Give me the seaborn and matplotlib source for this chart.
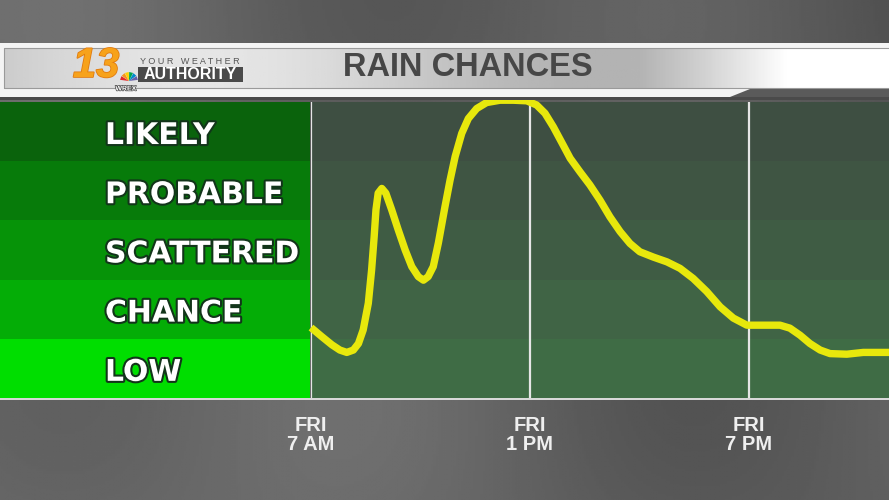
import numpy as np
import pandas as pd
import matplotlib
matplotlib.use("Agg")
import matplotlib.pyplot as plt
import seaborn as sns
from matplotlib import patheffects as pe
from matplotlib.patches import Rectangle, Polygon

# ---------------- data ----------------
levels_top_down = ["LIKELY", "PROBABLE", "SCATTERED", "CHANCE", "LOW"]
level_colors = ["#0a630c", "#077b0a", "#069308", "#04ad06", "#00de00"]
plot_band_colors = ["#3e4f42", "#3f5543", "#3f5c44", "#406445", "#3f6c45"]  # top -> bottom
tick_hours = [0, 6, 12]
tick_labels = ["FRI\n7 AM", "FRI\n1 PM", "FRI\n7 PM"]
title = "RAIN CHANCES"

# hours after 7 AM Friday, chance level on a 0 (bottom of LOW) .. 5 (top of LIKELY) scale
hours = [0.00, 0.29, 0.57, 0.79, 0.98, 1.16, 1.30, 1.43, 1.57, 1.66, 1.73, 1.78,
         1.84, 1.94, 2.05, 2.21, 2.39, 2.58, 2.76, 2.94, 3.08, 3.21, 3.35, 3.49,
         3.67, 3.81, 3.95, 4.13, 4.31, 4.54, 4.81, 5.18, 5.54, 5.91, 6.18, 6.41,
         6.64, 6.91, 7.10, 7.37, 7.64, 7.92, 8.19, 8.47, 8.74, 9.01, 9.38, 9.75,
         10.11, 10.47, 10.84, 11.21, 11.57, 11.94, 12.39, 12.85, 13.12, 13.40, 13.67,
         13.95, 14.22, 14.68, 15.13, 15.59, 15.84]
chance = [1.19, 1.04, 0.90, 0.81, 0.77, 0.81, 0.92, 1.15, 1.60, 2.16, 2.72, 3.18,
          3.46, 3.54, 3.46, 3.18, 2.84, 2.50, 2.22, 2.05, 1.99, 2.05, 2.22, 2.62,
          3.23, 3.68, 4.08, 4.47, 4.72, 4.89, 4.99, 5.03, 5.03, 5.02, 4.95, 4.81,
          4.58, 4.27, 4.05, 3.82, 3.60, 3.34, 3.06, 2.81, 2.61, 2.47, 2.38, 2.30,
          2.19, 2.02, 1.80, 1.54, 1.35, 1.23, 1.23, 1.23, 1.18, 1.06, 0.92,
          0.81, 0.75, 0.74, 0.77, 0.77, 0.77]

df = pd.DataFrame({"hour": hours, "chance": chance})

W, H = 889, 500
def fx(x): return x / W
def fy(y): return 1 - y / H

fig = plt.figure(figsize=(8.89, 5.0), dpi=100)

# ---------------- background ----------------
bg = fig.add_axes([0, 0, 1, 1], zorder=-5)
yy, xx = np.mgrid[0:1:200j, 0:1:360j]
shade = 0.37 + 0.04 * np.sin(xx * 9.0 + 1.0) * np.cos(yy * 4.0) + 0.02 * yy + 0.03 * np.cos(xx * 3.0)
bg.imshow(shade, cmap="gray", vmin=0, vmax=1, aspect="auto", extent=[0, 1, 0, 1], origin="upper")
bg.set_axis_off()

# ---------------- left category panel ----------------
axl = fig.add_axes([0, fy(398), fx(310), (398 - 102) / H], zorder=1)
sns.barplot(x=[1] * len(levels_top_down), y=levels_top_down, hue=levels_top_down,
            palette=level_colors, width=1.0, legend=False, ax=axl, linewidth=0, saturation=1)
axl.set_xlim(0, 1)
axl.set_ylim(4.5, -0.5)
axl.set_axis_off()
for i, lab in enumerate(levels_top_down):
    axl.text(105 / 310, i + 0.21, lab, ha="left", va="baseline", color="white",
             fontsize=21.5, fontweight="bold", family="DejaVu Sans",
             path_effects=[pe.withStroke(linewidth=3, foreground="#12351a")])

# ---------------- main plot ----------------
ax = fig.add_axes([fx(311), fy(398), (W - 311) / W, (398 - 102) / H], zorder=1)
for i, c in enumerate(plot_band_colors[::-1]):
    ax.axhspan(i, i + 1, color=c, lw=0, zorder=0)
for h in tick_hours:
    ax.axvline(h, color="#e6e6e6", lw=1.6, zorder=1)
sns.lineplot(data=df, x="hour", y="chance", ax=ax, color="#e8e80c", lw=5.3,
             zorder=3, clip_on=False, solid_capstyle="butt", solid_joinstyle="round")
ax.set_xlim(0, (W - 311) / 36.5)
ax.set_ylim(0, 5.0)
ax.set_facecolor("none")
for s in ax.spines.values():
    s.set_visible(False)
ax.set_yticks([])
ax.set_xticks(tick_hours)
ax.set_xticklabels(tick_labels, color="#efefef", fontsize=14.5, fontweight="bold",
                   family=["Liberation Sans", "DejaVu Sans"], linespacing=0.98)
ax.tick_params(axis="x", length=0, pad=13)
ax.set_xlabel("")
ax.set_ylabel("")

# bottom white rule
fig.add_artist(Rectangle((0, fy(399.5)), 1, 2 / H, transform=fig.transFigure,
                         color="#d8d8d8", lw=0, zorder=2))

# ---------------- header ----------------
fig.add_artist(Rectangle((0, fy(97)), 1, (97 - 43) / H, transform=fig.transFigure,
                         color="#f4f4f4", lw=0, zorder=4))
fig.add_artist(Polygon([(fx(730), fy(97)), (fx(750), fy(89)), (1, fy(89)), (1, fy(97))],
                       closed=True, transform=fig.transFigure, color="#5a5a5a", lw=0, zorder=4.5))
fig.add_artist(Rectangle((0, fy(100)), 1, 3 / H, transform=fig.transFigure,
                         color="#4a4a4a", lw=0, zorder=4.4))
gx = fig.add_axes([fx(4), fy(88), 1 - fx(4), (88 - 48) / H], zorder=5)
grad = np.linspace(0, 1, 300)
silver = np.clip(0.80 + 0.10 * np.sin(grad * 7) + 0.25 * np.clip((grad - 0.72) / 0.2, 0, 1), 0, 1)
gx.imshow(silver[None, :], cmap="gray", vmin=0, vmax=1, aspect="auto")
gx.set_axis_off()
fig.add_artist(Rectangle((fx(4), fy(88)), 1, (88 - 48) / H, transform=fig.transFigure,
                         fill=False, ec="#9a9a9a", lw=0.8, zorder=6))

fig.text(fx(468), fy(67), title, ha="center", va="center", color="#474747",
         fontsize=23.5, fontweight="bold", family=["Liberation Sans", "DejaVu Sans"], zorder=8)

# logo
fig.text(fx(96), fy(66), "13", ha="center", va="center", color="#f7a21b", fontsize=30,
         fontweight="bold", style="italic", family=["Liberation Sans", "DejaVu Sans"], zorder=8,
         path_effects=[pe.withStroke(linewidth=1.2, foreground="#e07a10")])
fig.add_artist(Rectangle((fx(138), fy(82)), (243 - 138) / W, 15 / H, transform=fig.transFigure,
                         color="#4a4a4a", lw=0, zorder=7))
fig.text(fx(190), fy(62), "Y O U R   W E A T H E R", ha="center", va="center", color="#555555",
         fontsize=6.5, family=["Liberation Sans", "DejaVu Sans"], zorder=8)
fig.text(fx(190), fy(74.5), "AUTHORITY", ha="center", va="center", color="white",
         fontsize=11.5, fontweight="bold", family=["Liberation Sans", "DejaVu Sans"], zorder=8)
fig.text(fx(126), fy(89), "WREX", ha="center", va="center", color="white",
         fontsize=5, fontweight="bold", family=["Liberation Sans", "DejaVu Sans"], zorder=8,
         path_effects=[pe.withStroke(linewidth=1, foreground="#444444")])
for k, c in enumerate(["#e4262a", "#f7941d", "#ffd200", "#00a650", "#0089cf", "#6460aa"]):
    ang = np.deg2rad(160 - k * 28)
    fig.add_artist(Polygon([(fx(129), fy(81)),
                            (fx(129 + 9 * np.cos(ang - 0.22)), fy(81 - 9 * np.sin(ang - 0.22))),
                            (fx(129 + 9 * np.cos(ang + 0.22)), fy(81 - 9 * np.sin(ang + 0.22)))],
                           closed=True, transform=fig.transFigure, color=c, lw=0, zorder=7.5))

fig.savefig("out.png", dpi=100)
